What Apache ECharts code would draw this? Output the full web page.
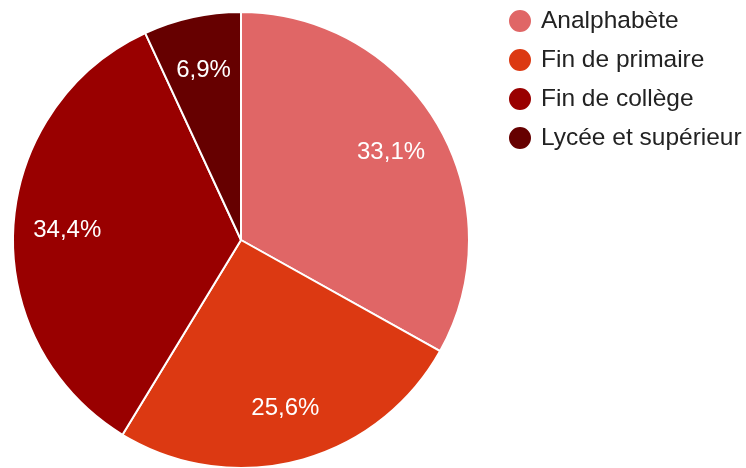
<!DOCTYPE html>
<html>
<head>
<meta charset="utf-8">
<script src="https://cdn.jsdelivr.net/npm/echarts@6/dist/echarts.min.js"></script>
<style>
html,body{margin:0;padding:0;background:#fff;}
#chart{width:746px;height:468px;}
</style>
</head>
<body>
<div id="chart"></div>
<script>
const categories = ['Analphabète', 'Fin de primaire', 'Fin de collège', 'Lycée et supérieur'];
const values = [33.1, 25.6, 34.4, 6.9];
const colors = ['#e06666', '#dc3912', '#990000', '#660000'];

const data = categories.map((c, i) => ({ name: c, value: values[i] }));
const fmt = p => p.value.toFixed(1).replace('.', ',') + '%';

const chart = echarts.init(document.getElementById('chart'), null, { renderer: 'canvas' });
chart.setOption({
  animation: false,
  color: colors,
  legend: {
    orient: 'vertical',
    left: 507,
    top: 8,
    padding: 0,
    icon: 'circle',
    itemWidth: 24,
    itemHeight: 24,
    itemGap: 13,
    textStyle: {
      fontFamily: 'Liberation Sans, Arial, sans-serif',
      fontSize: 24.5,
      lineHeight: 24,
      color: '#222222',
      padding: [0, 0, 0, 4]
    },
    data: categories
  },
  series: [
    {
      type: 'pie',
      center: [241, 240],
      radius: [0, 228],
      startAngle: 90,
      clockwise: true,
      label: { show: false },
      labelLine: { show: false },
      itemStyle: { borderColor: '#ffffff', borderWidth: 2 },
      emphasis: { disabled: true },
      data: data
    },
    {
      type: 'pie',
      center: [241, 240],
      radius: [114, 228],
      startAngle: 90,
      clockwise: true,
      silent: true,
      legendHoverLink: false,
      itemStyle: { color: 'rgba(0,0,0,0)', borderWidth: 0 },
      label: {
        show: true,
        position: 'inside',
        formatter: fmt,
        color: '#ffffff',
        fontFamily: 'Liberation Sans, Arial, sans-serif',
        fontSize: 24,
        textBorderWidth: 0
      },
      labelLine: { show: false },
      emphasis: { disabled: true },
      data: data.map(d => ({ name: d.name + ' ', value: d.value }))
    }
  ]
});
</script>
</body>
</html>
